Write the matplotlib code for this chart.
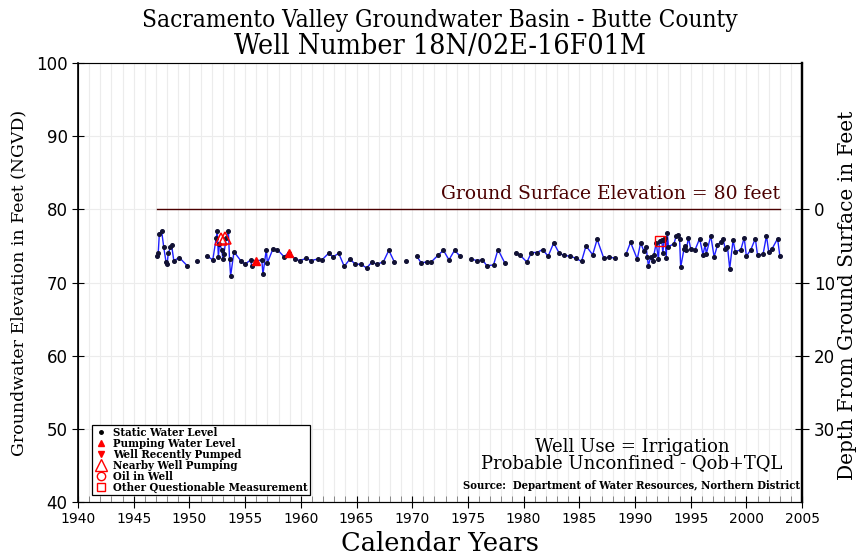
import numpy as np
import matplotlib
matplotlib.use('Agg')
import matplotlib.pyplot as plt
from matplotlib.lines import Line2D

# measured water levels (feet, NGVD); None marks a break in the line
years = [1947.1, 1947.2, 1947.3, 1947.5, 1947.7, 1947.9, 1948.0, 1948.1, 1948.3, 1948.4, 1948.6, 1949.1, 1949.8, None,
         1950.7, None,
         1951.6, 1952.1, 1952.4, 1952.5, 1952.6, 1952.7, 1952.9, 1953.0, 1953.1, 1953.3, 1953.5, 1953.6, 1953.7, 1954.0,
         1954.6, 1955.0, 1955.5, 1955.6, 1955.95, 1956.5, 1956.6, 1956.9, 1957.0, 1957.5, 1957.9, 1958.5, 1958.9, 1959.5,
         1959.9, 1960.5, 1960.9, 1961.5, 1961.9, 1962.5, 1962.9, 1963.4, 1963.9, 1964.4, 1964.9, 1965.4, 1965.9, 1966.4,
         1966.8, 1967.4, 1967.9, 1968.4, None,
         1969.4, None,
         1970.4, 1970.8, 1971.3, 1971.7, 1972.3, 1972.8, 1973.3, 1973.8, 1974.3, None,
         1975.3, 1975.8, 1976.3, 1976.7, 1977.3, 1977.7, 1978.3, None,
         1979.3, 1979.7, 1980.3, 1980.7, 1981.2, 1981.7, 1982.2, 1982.7, 1983.2, 1983.6, 1984.2, 1984.7, 1985.2, 1985.6,
         1986.2, 1986.6, 1987.2, 1987.7, 1988.2, None,
         1989.2, 1989.6, 1990.2, 1990.5, 1990.8, 1991.0, 1991.1, 1991.2, 1991.4, 1991.6, 1991.7, 1991.9, 1992.1, 1992.2,
         1992.4, 1992.5, 1992.6, 1992.7, 1992.8, 1992.9, 1993.0, 1993.5, 1993.7, 1993.9, 1994.0, 1994.1, 1994.4, 1994.5,
         1994.6, 1994.8, 1995.0, 1995.4, 1995.8, 1996.1, 1996.3, 1996.4, 1996.8, 1997.1, 1997.4, 1997.7, 1997.9, 1998.1,
         1998.3, 1998.5, 1998.8, 1999.0, 1999.5, 1999.8, 2000.0, 2000.4, 2000.8, 2001.0, 2001.5, 2001.8, 2002.0, 2002.3,
         2002.8, 2003.0]
levels = [73.6, 74.0, 76.6, 77.1, 74.8, 72.8, 72.5, 74.0, 74.8, 75.1, 73.0, 73.4, 72.3, None,
          72.9, None,
          73.6, 73.1, 76.1, 77.0, 73.5, 75.3, 74.5, 73.2, 73.9, 76.1, 77.1, 73.2, 70.9, 74.2,
          73.0, 72.5, 73.1, 72.2, 72.9, 73.1, 71.1, 74.5, 72.7, 74.6, 74.5, 73.5, 74.1, 73.2,
          73.0, 73.3, 73.0, 73.2, 73.1, 74.0, 73.5, 74.0, 72.2, 73.2, 72.5, 72.5, 72.0, 72.8,
          72.5, 72.8, 74.4, 72.8, None,
          72.9, None,
          73.6, 72.7, 72.8, 72.8, 73.7, 74.4, 73.1, 74.4, 73.6, None,
          73.2, 73.0, 73.1, 72.3, 72.4, 74.5, 72.7, None,
          74.0, 73.7, 72.8, 74.1, 74.1, 74.5, 73.6, 75.4, 74.0, 73.7, 73.6, 73.3, 72.9, 75.0,
          73.8, 75.9, 73.3, 73.5, 73.3, None,
          73.9, 75.5, 73.2, 75.4, 74.3, 74.9, 73.5, 72.3, 73.5, 73.0, 73.8, 75.4, 73.2, 75.7,
          75.8, 74.0, 75.8, 76.1, 73.4, 76.7, 74.9, 75.3, 76.4, 76.5, 75.9, 72.1, 74.6, 75.0,
          74.5, 76.1, 74.6, 74.5, 76.0, 73.8, 75.2, 73.9, 76.4, 73.5, 75.1, 75.6, 76.0, 74.6,
          74.9, 71.9, 75.8, 74.2, 74.5, 76.1, 73.6, 74.5, 76.0, 73.7, 73.9, 76.4, 74.2, 74.6,
          76.0, 73.6]

# flagged measurements
nearby_years = [1952.8, 1953.2]
nearby_levels = [75.9, 76.1]
pumping_years = [1955.95, 1958.9]
pumping_levels = [72.9, 74.1]
questionable_years = [1992.2]
questionable_levels = [75.7]

ground_elev = 80
ground_span = [1947.1, 2003.0]

title_font = 'DejaVu Serif'
mono_font = 'DejaVu Serif'

fig = plt.figure(figsize=(8.6, 5.57), dpi=100)
ax = fig.add_axes([0.0907, 0.0987, 0.842, 0.7882])

x = np.array(years, dtype=float)
y = np.array(levels, dtype=float)

# year gridlines and 10 ft gridlines
ax.set_xticks(np.arange(1940, 2006, 1), minor=True)
ax.grid(True, which='minor', axis='x', color='#ececec', lw=0.8)
ax.grid(True, which='major', axis='both', color='#ececec', lw=0.8)
ax.set_axisbelow(True)

ax.plot(ground_span, [ground_elev, ground_elev], color='#4b0000', lw=1.0)
ax.text(ground_span[1], ground_elev + 0.8, 'Ground Surface Elevation = 80 feet',
        color='#4b0000', fontsize=13.5, family=mono_font, ha='right', va='bottom')

ax.plot(x, y, color='#1f1fff', lw=1.0)
ax.plot(x, y, ls='none', marker='o', ms=2.6, color='#111133')

ax.plot(nearby_years, nearby_levels, ls='none', marker='^', ms=8.5, mfc='none', mec='red', mew=1.1)
ax.plot(pumping_years, pumping_levels, ls='none', marker='^', ms=5.5, color='red')
ax.plot(questionable_years, questionable_levels, ls='none', marker='s', ms=6.5, mfc='none', mec='red', mew=1.0)

ax.set_xlim(1940, 2005)
ax.set_ylim(40, 100)
ax.set_xticks(np.arange(1940, 2006, 5))
ax.set_yticks(np.arange(40, 101, 10))
ax.tick_params(axis='x', which='major', direction='inout', length=8, labelsize=10)
ax.tick_params(axis='x', which='minor', direction='in', length=4, color='#777777')
ax.tick_params(axis='y', direction='inout', length=8, labelsize=12)
ax.spines['top'].set_color('#888888')
ax.spines['left'].set_linewidth(1.2)
ax.spines['right'].set_linewidth(1.6)

# depth below ground surface on the right
ax2 = ax.twinx()
ax2.set_yticks([0, 10, 20, 30])
ax2.tick_params(axis='y', direction='inout', length=10, labelsize=12)
ax2.set_ylim(ground_elev - 40, ground_elev - 100)
ax2.spines['right'].set_linewidth(1.6)

ax.set_ylabel('Groundwater Elevation in Feet (NGVD)', family=mono_font, fontsize=12.5, labelpad=6)
ax2.set_ylabel('Depth From Ground Surface in Feet', family=mono_font, fontsize=14.5)
ax2.yaxis.set_label_coords(1.05, 0.47)
ax.set_xlabel('Calendar Years', family=mono_font, fontsize=18.5, labelpad=3)

fig.text(0.511, 0.963, 'Sacramento Valley Groundwater Basin - Butte County', ha='center', va='center',
         family=title_font, fontstretch='condensed', fontsize=17.5)
fig.text(0.512, 0.916, 'Well Number 18N/02E-16F01M', ha='center', va='center',
         family=title_font, fontstretch='condensed', fontsize=20.5)

ax.text(0.765, 0.114, 'Well Use = Irrigation', transform=ax.transAxes, ha='center',
        family=mono_font, fontsize=13)
ax.text(0.765, 0.077, 'Probable Unconfined - Qob+TQL', transform=ax.transAxes, ha='center',
        family=mono_font, fontsize=13)
ax.text(0.765, 0.03, 'Source:  Department of Water Resources, Northern District', transform=ax.transAxes,
        ha='center', family=title_font, fontweight='bold', fontstretch='condensed', fontsize=8.1)

handles = [
    Line2D([], [], ls='none', marker='o', ms=2.5, color='black'),
    Line2D([], [], ls='none', marker='^', ms=5, color='red'),
    Line2D([], [], ls='none', marker='v', ms=5, color='red'),
    Line2D([], [], ls='none', marker='^', ms=8, mfc='none', mec='red'),
    Line2D([], [], ls='none', marker='o', ms=6, mfc='none', mec='red'),
    Line2D([], [], ls='none', marker='s', ms=6, mfc='none', mec='red'),
]
labels = ['Static Water Level', 'Pumping Water Level', 'Well Recently Pumped',
          'Nearby Well Pumping', 'Oil in Well', 'Other Questionable Measurement']
leg = ax.legend(handles, labels, loc='lower left', bbox_to_anchor=(0.012, 0.003), fancybox=False,
                edgecolor='black', framealpha=1, borderpad=0.15, labelspacing=0.0, handlelength=1.2,
                handletextpad=0.5, prop={'family': title_font, 'weight': 'bold', 'stretch': 'condensed', 'size': 8.2})
leg.get_frame().set_linewidth(0.9)

fig.savefig('out.png', dpi=100)
